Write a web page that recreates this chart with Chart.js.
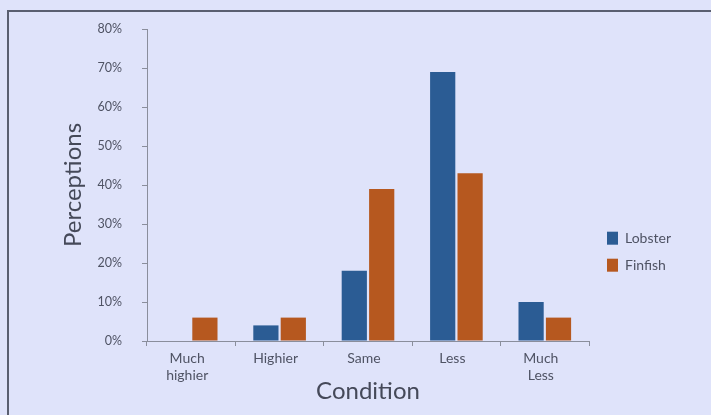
<!DOCTYPE html>
<html>
<head>
<meta charset="utf-8">
<script src="https://cdn.jsdelivr.net/npm/chart.js@4/dist/chart.umd.min.js"></script>
<style>
  html, body { margin: 0; padding: 0; background: #dfe3fa; }
  #wrap { position: relative; width: 711px; height: 415px; }
  #frame { position: absolute; left: 7px; top: 10px; right: 0; bottom: 0;
           border-top: 2px solid #5a5f70; border-left: 2px solid #5a5f70; pointer-events: none; }
  canvas { display: block; }
</style>
</head>
<body>
<div id="wrap">
  <canvas id="c" width="711" height="415"></canvas>
  <div id="frame"></div>
</div>
<script>
// Survey responses: perceived condition of the fishery
const categories = [['Much', 'highier'], 'Highier', 'Same', 'Less', ['Much', 'Less']];
const lobster = [0, 4, 18, 69, 10];
const finfish = [6, 6, 39, 43, 6];
const yTicks = [0, 10, 20, 30, 40, 50, 60, 70, 80];

const FONT = 'Lato, "Open Sans", sans-serif';
const axisGray = '#8a8e9c';
const textGray = '#4f5364';

// Nudge the legend a little away from the plot area
const legendGap = {
  id: 'legendGap',
  afterLayout(chart) {
    if (chart.legend) { chart.legend.left += 5; chart.legend.right += 5; }
  }
};

new Chart(document.getElementById('c'), {
  type: 'bar',
  plugins: [legendGap],
  data: {
    labels: categories,
    datasets: [
      { label: 'Lobster', data: lobster, backgroundColor: '#2b5c94',
        categoryPercentage: 0.62, barPercentage: 0.92 },
      { label: 'Finfish', data: finfish, backgroundColor: '#b6581f',
        categoryPercentage: 0.62, barPercentage: 0.92 }
    ]
  },
  options: {
    responsive: false,
    animation: false,
    layout: { padding: { left: 59, right: 40, top: 29, bottom: 9 } },
    plugins: {
      tooltip: { enabled: false },
      legend: {
        position: 'right',
        align: 'start',
        fullSize: false,
        maxWidth: 82,
        title: { display: true, text: ' ', padding: { top: 188, bottom: 0 }, font: { size: 1 } },
        labels: {
          boxWidth: 11, boxHeight: 13, padding: 13,
          color: textGray,
          font: { family: FONT, size: 14 }
        }
      }
    },
    scales: {
      x: {
        afterFit: (axis) => { axis.height = 65; },
        border: { color: axisGray, width: 1 },
        grid: { display: true, drawOnChartArea: false, drawTicks: true, tickLength: 5, color: axisGray },
        ticks: { color: textGray, font: { family: FONT, size: 14, lineHeight: 1.22 }, padding: 4,
                 maxRotation: 0, labelOffset: -4 },
        title: { display: true, text: 'Condition', color: '#454959',
                 font: { family: FONT, size: 24 }, padding: { top: 0, bottom: 0 } }
      },
      y: {
        min: 0, max: 80,
        afterFit: (axis) => { axis.width = 88; },
        afterBuildTicks: (axis) => { axis.ticks = yTicks.map(v => ({ value: v })); },
        border: { color: axisGray, width: 1 },
        grid: { display: true, drawOnChartArea: false, drawTicks: true, tickLength: 5, color: axisGray },
        ticks: { color: textGray, font: { family: FONT, size: 12.5 }, padding: 20,
                 callback: (v) => v + '%' },
        title: { display: true, text: 'Perceptions', color: '#454959',
                 font: { family: FONT, size: 24 }, padding: { top: 0, bottom: 0 } }
      }
    }
  }
});
</script>
</body>
</html>
